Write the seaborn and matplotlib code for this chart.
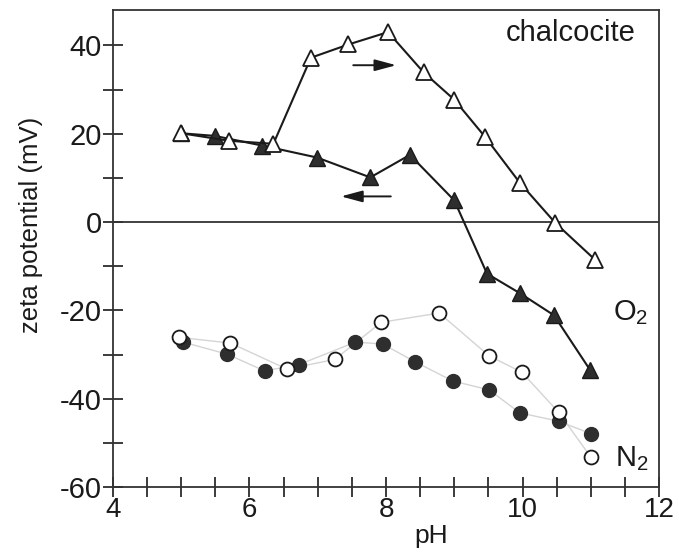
import matplotlib
matplotlib.use("Agg")
import matplotlib.pyplot as plt
from matplotlib.ticker import MultipleLocator
import numpy as np
import pandas as pd
import seaborn as sns

# Zeta potential of chalcocite vs pH
# O2 atmosphere, forward titration (increasing pH, open triangles)
o2_fwd_ph = [5.0, 5.7, 6.35, 6.9, 7.45, 8.03, 8.55, 9.0, 9.45, 9.96, 10.48, 11.06]
o2_fwd_zeta = [20.1, 18.4, 17.7, 37.2, 40.2, 43.0, 33.9, 27.7, 19.3, 8.9, -0.2, -8.5]
# O2 atmosphere, reverse titration (decreasing pH, filled triangles)
o2_rev_ph = [10.99, 10.46, 9.96, 9.48, 9.0, 8.35, 7.77, 6.99, 6.19, 5.49, 5.0]
o2_rev_zeta = [-33.5, -21.1, -16.1, -11.7, 4.9, 15.2, 10.1, 14.6, 17.3, 19.5, 20.1]
# N2 atmosphere, open circles
n2_a_ph = [4.96, 5.72, 6.55, 7.25, 7.93, 8.78, 9.51, 9.99, 10.53, 11.0]
n2_a_zeta = [-26.1, -27.4, -33.3, -31.1, -22.7, -20.6, -30.3, -34.0, -43.1, -53.2]
# N2 atmosphere, filled circles
n2_b_ph = [5.03, 5.67, 6.22, 6.72, 7.55, 7.95, 8.42, 8.98, 9.51, 9.96, 10.53, 11.0]
n2_b_zeta = [-27.2, -29.9, -33.7, -32.3, -27.2, -27.6, -31.6, -36.0, -38.0, -43.2, -45.1, -47.9]

x_ticks = [4, 6, 8, 10, 12]
y_ticks = [-60, -40, -20, 0, 20, 40]

sns.set_style("ticks")
plt.rcParams["font.family"] = ["Liberation Sans", "DejaVu Sans"]
plt.rcParams["mathtext.fontset"] = "custom"
plt.rcParams["mathtext.rm"] = "Liberation Sans"
plt.rcParams["axes.unicode_minus"] = False

fig = plt.figure(figsize=(6.79, 5.56), dpi=100)
ax = fig.add_axes([0.1664, 0.124, 0.9706 - 0.1664, 0.982 - 0.124])

fs_tick = 21
fs_text = 21
ink = "#1a1a1a"

# N2 curves: faint connecting lines
sns.lineplot(x=n2_b_ph, y=n2_b_zeta, ax=ax, sort=False, estimator=None,
             color="#d4d4d4", lw=1.0, zorder=2)
sns.lineplot(x=n2_a_ph, y=n2_a_zeta, ax=ax, sort=False, estimator=None,
             color="#d4d4d4", lw=1.0, zorder=2)
sns.scatterplot(x=n2_b_ph, y=n2_b_zeta, ax=ax, marker="o", s=100,
                color="#2e2e2e", edgecolor="#2e2e2e", linewidth=1.0, zorder=4)
sns.scatterplot(x=n2_a_ph, y=n2_a_zeta, ax=ax, marker="o", s=100,
                facecolor="white", edgecolor=ink, linewidth=1.3, zorder=5)

# O2 curves
sns.lineplot(x=o2_rev_ph, y=o2_rev_zeta, ax=ax, sort=False, estimator=None,
             color=ink, lw=1.5, marker="^", markersize=12,
             markerfacecolor="#2e2e2e", markeredgecolor=ink, markeredgewidth=1.0,
             zorder=6)
sns.lineplot(x=o2_fwd_ph, y=o2_fwd_zeta, ax=ax, sort=False, estimator=None,
             color=ink, lw=1.5, marker="^", markersize=12,
             markerfacecolor="white", markeredgecolor=ink, markeredgewidth=1.3,
             zorder=7)

# zero line
ax.axhline(0, color="#333333", lw=1.3, zorder=1)

# direction arrows
arrow_style = "-|>,head_length=1.3,head_width=0.35"
ax.annotate("", xy=(8.15, 35.5), xytext=(7.52, 35.5),
            arrowprops=dict(arrowstyle=arrow_style, color=ink, lw=1.4,
                            shrinkA=0, shrinkB=0))
ax.annotate("", xy=(7.34, 5.8), xytext=(8.07, 5.8),
            arrowprops=dict(arrowstyle=arrow_style, color=ink, lw=1.4,
                            shrinkA=0, shrinkB=0))

ax.text(11.65, 42.7, "chalcocite", fontsize=fs_text, ha="right", va="center", color=ink)
ax.text(11.33, -20.5, r"O$_2$", fontsize=fs_text, ha="left", va="center", color=ink)
ax.text(11.35, -53.6, r"N$_2$", fontsize=fs_text, ha="left", va="center", color=ink)

ax.set_xlim(4, 12)
ax.set_ylim(-60, 48)
ax.set_xticks(x_ticks)
ax.set_yticks(y_ticks)
ax.xaxis.set_minor_locator(MultipleLocator(0.5))
ax.yaxis.set_minor_locator(MultipleLocator(10))
ax.tick_params(axis="both", which="both", direction="inout", length=14,
               width=1.2, color=ink, labelcolor=ink)
ax.tick_params(axis="y", labelsize=fs_tick, pad=1)
ax.tick_params(axis="x", labelsize=fs_tick - 1, pad=0)
ax.set_xlabel("pH", fontsize=19, color=ink)
ax.xaxis.set_label_coords(0.583, -0.078)
ax.set_ylabel("zeta potential (mV)", fontsize=18.5, color=ink)
ax.yaxis.set_label_coords(-0.128, 0.549)

for side in ["left", "bottom", "top", "right"]:
    ax.spines[side].set_visible(True)
    ax.spines[side].set_color("#333333")
    ax.spines[side].set_linewidth(1.3)

fig.savefig("out.png", dpi=100, facecolor="white")
